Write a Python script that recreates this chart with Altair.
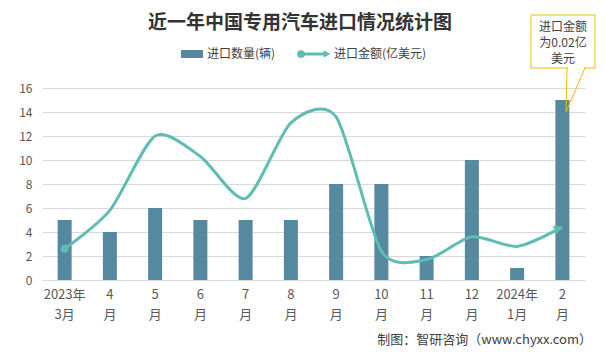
import altair as alt
import pandas as pd

months = ["2023年\n3月", "4\n月", "5\n月", "6\n月", "7\n月", "8\n月", "9\n月",
          "10\n月", "11\n月", "12\n月", "2024年\n1月", "2\n月"]
quantity = [5, 4, 6, 5, 5, 5, 8, 8, 2, 10, 1, 15]
amount = [2.6, 5.8, 12.0, 10.3, 6.8, 13.1, 13.6, 2.4, 1.7, 3.6, 2.8, 4.4]
y_ticks = [0, 2, 4, 6, 8, 10, 12, 14, 16]

df = pd.DataFrame({"month": months, "qty": quantity, "amt": amount,
                   "idx": list(range(len(months)))})

BAR = "#55899F"
LINE = "#5DBDB3"
GOLD = "#F5B800"
FONT = "Noto Sans CJK SC"

x_axis = alt.Axis(labelExpr="split(datum.label, '\\n')", labelAngle=0,
                  labelFontSize=13, labelColor="#595959", labelFont=FONT,
                  labelLineHeight=20, labelPadding=8,
                  ticks=False, domainColor="#D9D9D9", grid=False)
x_scale = alt.Scale(paddingInner=0, paddingOuter=0)
y_axis = alt.Axis(values=y_ticks, tickCount=30, format="d", labelFontSize=12,
                  labelColor="#595959", labelFont=FONT, ticks=False,
                  labelOverlap=False, labelFlush=False,
                  domain=False, gridColor="#D9D9D9", labelPadding=10)
y_scale = alt.Scale(domain=[0, 16], nice=False)


def X():
    return alt.X("month:N", sort=months, title=None, scale=x_scale, axis=x_axis)


def Y(field):
    return alt.Y(field, type="quantitative", scale=y_scale, title=None, axis=y_axis)


base = alt.Chart(df)

bars = base.mark_bar(color=BAR, size=14).encode(x=X(), y=Y("qty"))

line = base.mark_line(color=LINE, strokeWidth=3, interpolate="cardinal",
                      tension=0.25).encode(x=X(), y=Y("amt"))

start = base.transform_filter("datum.idx == 0").mark_point(
    shape="circle", filled=True, opacity=1, color=LINE, size=70).encode(
    x=X(), y=Y("amt"))

end = base.transform_filter("datum.idx == 11").mark_point(
    shape="triangle-right", filled=True, opacity=1, color=LINE, size=90, angle=335,
    xOffset=-4, yOffset=1).encode(x=X(), y=Y("amt"))

title = alt.Chart().mark_text(text="近一年中国专用汽车进口情况统计图", font=FONT,
                              fontSize=19, fontWeight="bold", color="#333333",
                              align="center", baseline="middle").encode(
    x=alt.value(258), y=alt.value(-65))

leg_rect = alt.Chart().mark_rect(color=BAR).encode(
    x=alt.value(139), x2=alt.value(161), y=alt.value(-38), y2=alt.value(-30))
leg_t1 = alt.Chart().mark_text(text="进口数量(辆)", font=FONT, fontSize=12,
                               color="#404040", align="left", baseline="middle").encode(
    x=alt.value(165), y=alt.value(-34))
leg_line = alt.Chart().mark_rule(color=LINE, strokeWidth=3).encode(
    x=alt.value(258), x2=alt.value(284), y=alt.value(-34))
leg_dot = alt.Chart().mark_point(shape="circle", filled=True, opacity=1, color=LINE,
                                 size=60).encode(x=alt.value(259), y=alt.value(-34))
leg_arrow = alt.Chart().mark_point(shape="triangle-right", filled=True, opacity=1,
                                   color=LINE, size=60).encode(
    x=alt.value(285), y=alt.value(-34))
leg_t2 = alt.Chart().mark_text(text="进口金额(亿美元)", font=FONT, fontSize=12,
                               color="#404040", align="left", baseline="middle").encode(
    x=alt.value(292), y=alt.value(-34))

box = alt.Chart().mark_rect(fill="white", stroke=GOLD, strokeWidth=1).encode(
    x=alt.value(489), x2=alt.value(553), y=alt.value(-73), y2=alt.value(-20))
tail_l = alt.Chart().mark_rule(color=GOLD, strokeWidth=1).encode(
    x=alt.value(525), x2=alt.value(524), y=alt.value(-20), y2=alt.value(24))
tail_r = alt.Chart().mark_rule(color=GOLD, strokeWidth=1).encode(
    x=alt.value(543), x2=alt.value(524), y=alt.value(-20), y2=alt.value(24))
tail_cover = alt.Chart().mark_rule(color="white", strokeWidth=2).encode(
    x=alt.value(526), x2=alt.value(542), y=alt.value(-20))
box_lines = []
for i, t in enumerate(["进口金额", "为0.02亿", "美元"]):
    box_lines.append(alt.Chart().mark_text(text=t, font=FONT, fontSize=12,
                                           color="#404040", align="center",
                                           baseline="middle").encode(
        x=alt.value(521), y=alt.value(-61 + 16 * i)))

source = alt.Chart().mark_text(text="制图：智研咨询（www.chyxx.com）", font=FONT,
                               fontSize=13, color="#404040", align="right",
                               baseline="middle").encode(
    x=alt.value(550), y=alt.value(252))

chart = alt.layer(bars, line, start, end, title, leg_rect, leg_t1, leg_line, leg_dot,
                  leg_arrow, leg_t2, tail_l, tail_r, box, tail_cover, *box_lines,
                  source).properties(
    width=543, height=192,
    autosize=alt.AutoSizeParams(type="none"),
    padding={"left": 34, "top": 80, "right": 12, "bottom": 68},
    background="white",
).configure_view(stroke=None)

chart.save("out.html", embed_options={"renderer": "svg", "actions": False})
